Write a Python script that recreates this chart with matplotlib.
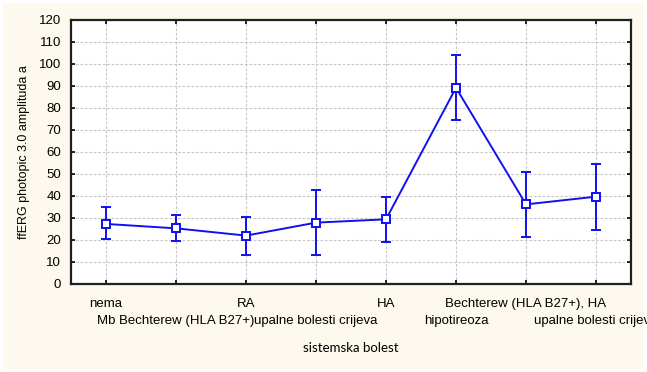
import matplotlib.pyplot as plt
import numpy as np

categories = ['nema', 'Mb Bechterew (HLA B27+)', 'RA', 'upalne bolesti crijeva',
              'HA', 'hipotireoza', 'Bechterew (HLA B27+), HA', 'upalne bolesti crijeva']
means = [27.3, 25.3, 22.0, 27.9, 29.4, 89.2, 36.2, 39.7]
upper = [35.1, 31.5, 30.5, 42.9, 39.7, 104.2, 50.8, 54.4]
lower = [20.5, 19.5, 13.3, 13.2, 19.0, 74.7, 21.2, 24.7]

bg = '#fdf9ee'
blue = '#1010f0'

fig = plt.figure(figsize=(6.47, 3.72), dpi=100, facecolor=bg)
fig.patch.set_edgecolor('white')
fig.patch.set_linewidth(4)
ax = fig.add_axes([71 / 647, 1 - 284 / 372, 560 / 647, 264 / 372])
ax.set_facecolor('white')

x = np.arange(len(categories))
m = np.array(means)
yerr = [m - np.array(lower), np.array(upper) - m]
ax.errorbar(x, m, yerr=yerr, color=blue, lw=1.4, elinewidth=1.4, capsize=3.5,
            capthick=1.4, marker='s', ms=6, mfc='white', mec=blue, mew=1.4, zorder=3)

ax.set_xlim(-0.5, 7.5)
ax.set_ylim(0, 120)
ax.set_yticks(np.arange(0, 121, 10))
ax.set_xticks(x[::2], categories[::2])
ax.set_xticks(x[1::2], categories[1::2], minor=True)
ax.grid(True, which='both', color='#c8c8c8', ls=(0, (2.5, 1.5)), lw=0.8)
ax.set_axisbelow(True)

for lab in ax.get_xticklabels(which='both') + ax.get_yticklabels():
    lab.set_family('Liberation Sans')
    lab.set_fontsize(9.5)
ax.tick_params(axis='y', direction='in', length=3, pad=7, right=True, width=1.2)
ax.tick_params(axis='x', which='both', direction='in', length=3, width=1.2, top=True)
ax.tick_params(axis='x', which='major', pad=10)
ax.tick_params(axis='x', which='minor', pad=22)
for s in ax.spines.values():
    s.set_linewidth(1.6)
    s.set_color('#202020')

ax.set_ylabel('ffERG photopic 3.0 amplituda a', family='Liberation Sans', fontsize=9)
ax.yaxis.set_label_coords(-41 / 560, 0.5)
ax.set_xlabel('sistemska bolest', family='Lato', fontsize=9.5)
ax.xaxis.set_label_coords(0.5, -64 / 264)
ax.xaxis.label.set_va('center')

fig.savefig('out.png', dpi=100, facecolor=bg, edgecolor='white')
